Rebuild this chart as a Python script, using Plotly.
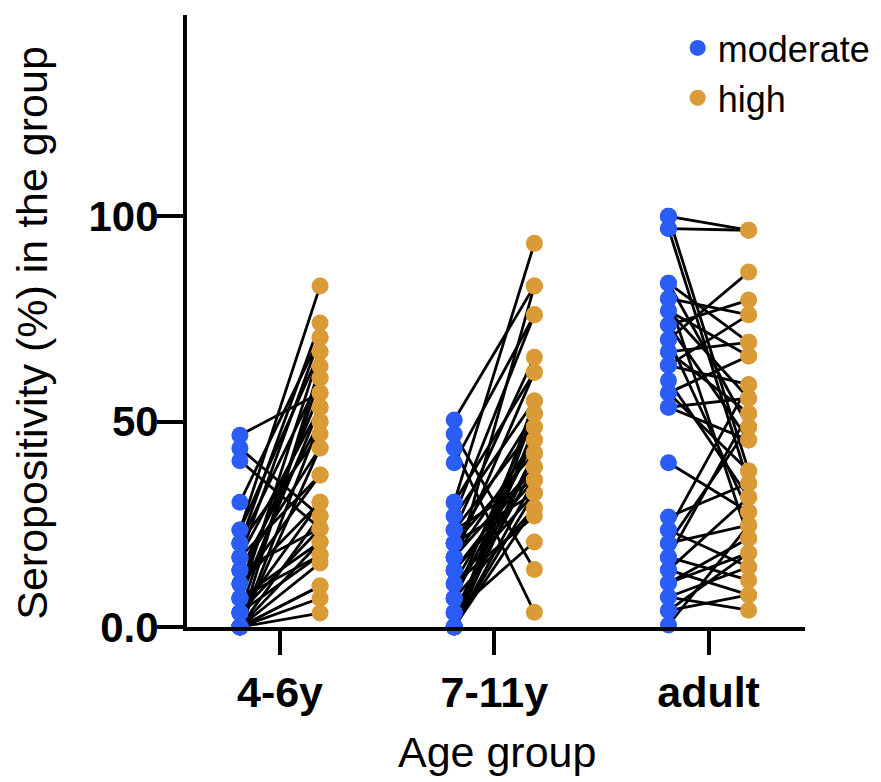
import plotly.graph_objects as go

# ---- data ----
groups = ["4-6y", "7-11y", "adult"]
series_names = ["moderate", "high"]

moderate_4_6 = [46.7, 43.5, 40.5, 30.4, 23.6, 23.6, 20.4, 20.4, 17, 17, 13.8, 13.8,
                10.5, 10.5, 10.5, 7, 7, 7, 3.5, 3.5, 3.5, 3.5, 0, 0,
                0, 0, 0, 0, 0, 0, 0, 0, 17, 13.8, 20.4, 7]
high_4_6 = [57, 27, 24, 70.5, 83, 67, 74, 60.6, 53.5, 70.5, 50, 43.6,
            57, 37, 30.4, 67, 20.7, 53.5, 24, 60.6, 17.5, 30.4, 50, 10,
            63.5, 27, 7, 15.6, 43.6, 3.4, 20.7, 10, 37, 24, 47, 17.5]

moderate_7_11 = [50.4, 47, 43.6, 40, 30.4, 30.4, 27, 27, 23.6, 23.6, 20.4, 20.4,
                 17, 17, 13.8, 13.8, 10.5, 10.5, 7, 7, 3.5, 3.5, 0, 0,
                 0, 0, 0, 0, 17, 13.8, 10.5, 7, 3.5, 23.6, 20.4, 0]
high_7_11 = [83, 14, 3.6, 76, 93.4, 62, 76, 55, 65.7, 48.7, 52, 42.3,
             45.5, 39, 35.8, 83, 32.6, 45.5, 29, 52, 39, 20.7, 55, 35.8,
             42.3, 29, 48.7, 32.6, 62, 39, 27, 45.5, 42.3, 35.8, 32.6, 52]

moderate_adult = [100, 100, 97, 97, 83.7, 83.7, 80, 80, 77, 77, 73.5, 73.5,
                  70, 70, 67, 67, 63.7, 63.7, 60, 57, 57, 53.5, 53.5, 40,
                  26.8, 23.6, 23.6, 20.4, 20.4, 17, 17, 13.9, 13.9, 10.7, 10.7, 7.3,
                  7.3, 4, 4, 0.5]
high_adult = [96.6, 38, 96.6, 35, 69.3, 48.7, 76, 21.6, 55.7, 66, 79.6, 45.5,
              86.4, 28, 69.3, 52, 76, 59, 31.6, 66, 38, 55.7, 45.5, 28,
              35, 59, 14.6, 48.7, 24.8, 52, 11.4, 31.6, 7.8, 18, 21.6, 14.6,
              4.1, 7.8, 18, 24.8]

moderate_values = [moderate_4_6, moderate_7_11, moderate_adult]
high_values = [high_4_6, high_7_11, high_adult]

y_tick_vals = [0, 50, 100]
y_tick_text = ["0.0", "50", "100"]

# ---- style ----
BLUE = "#2A5CF6"
ORANGE = "#DA9A36"
FONT = "Liberation Sans, Arial, Helvetica, sans-serif"
OFFSET = 0.187

fig = go.Figure()

# connecting lines
lx, ly = [], []
for gi, (mv, hv) in enumerate(zip(moderate_values, high_values)):
    xc = gi + 1
    for a, b in zip(mv, hv):
        lx += [xc - OFFSET, xc + OFFSET, None]
        ly += [a, b, None]
fig.add_trace(go.Scatter(x=lx, y=ly, mode="lines",
                         line=dict(color="black", width=2.8),
                         showlegend=False, hoverinfo="skip", cliponaxis=False))

# markers
for name, vals, sign, color in [(series_names[0], moderate_values, -1, BLUE),
                                (series_names[1], high_values, 1, ORANGE)]:
    xs, ys = [], []
    for gi, v in enumerate(vals):
        xs += [gi + 1 + sign * OFFSET] * len(v)
        ys += v
    fig.add_trace(go.Scatter(x=xs, y=ys, mode="markers", name=name,
                             marker=dict(color=color, size=17, line=dict(width=0)),
                             cliponaxis=False))

fig.update_layout(
    width=881, height=782,
    margin=dict(l=187, r=76, t=15, b=155, autoexpand=False),
    plot_bgcolor="white", paper_bgcolor="white",
    font=dict(family=FONT, color="black"),
    legend=dict(x=0.794, y=0.995, xanchor="left", yanchor="top",
                font=dict(size=36, family=FONT, color="black"),
                bgcolor="rgba(0,0,0,0)", itemsizing="trace",
                tracegroupgap=0),
    xaxis=dict(range=[0.566, 3.45], tickvals=[1, 2, 3], ticktext=groups,
               showline=True, linecolor="black", linewidth=4,
               ticks="outside", ticklen=24, tickwidth=4, tickcolor="black",
               tickfont=dict(size=43, family=FONT, color="black", weight="bold"),
               showgrid=False, zeroline=False, automargin=False),
    yaxis=dict(range=[0, 149], tickvals=y_tick_vals, ticktext=y_tick_text,
               showline=True, linecolor="black", linewidth=4,
               ticks="outside", ticklen=26, tickwidth=4, tickcolor="black",
               ticklabelstandoff=-10,
               tickfont=dict(size=42, family=FONT, color="black", weight="bold"),
               showgrid=False, zeroline=False, automargin=False),
    annotations=[
        dict(text="Age group", xref="paper", yref="paper", x=0.502, y=-0.205,
             xanchor="center", yanchor="middle", showarrow=False,
             font=dict(size=43, family=FONT, color="black")),
        dict(text="Seropositivity (%) in the group", xref="paper", yref="paper",
             x=-0.25, y=0.48, xanchor="center", yanchor="middle", textangle=-90,
             showarrow=False, font=dict(size=43, family=FONT, color="black")),
    ],
)

fig.write_html("out.html")
